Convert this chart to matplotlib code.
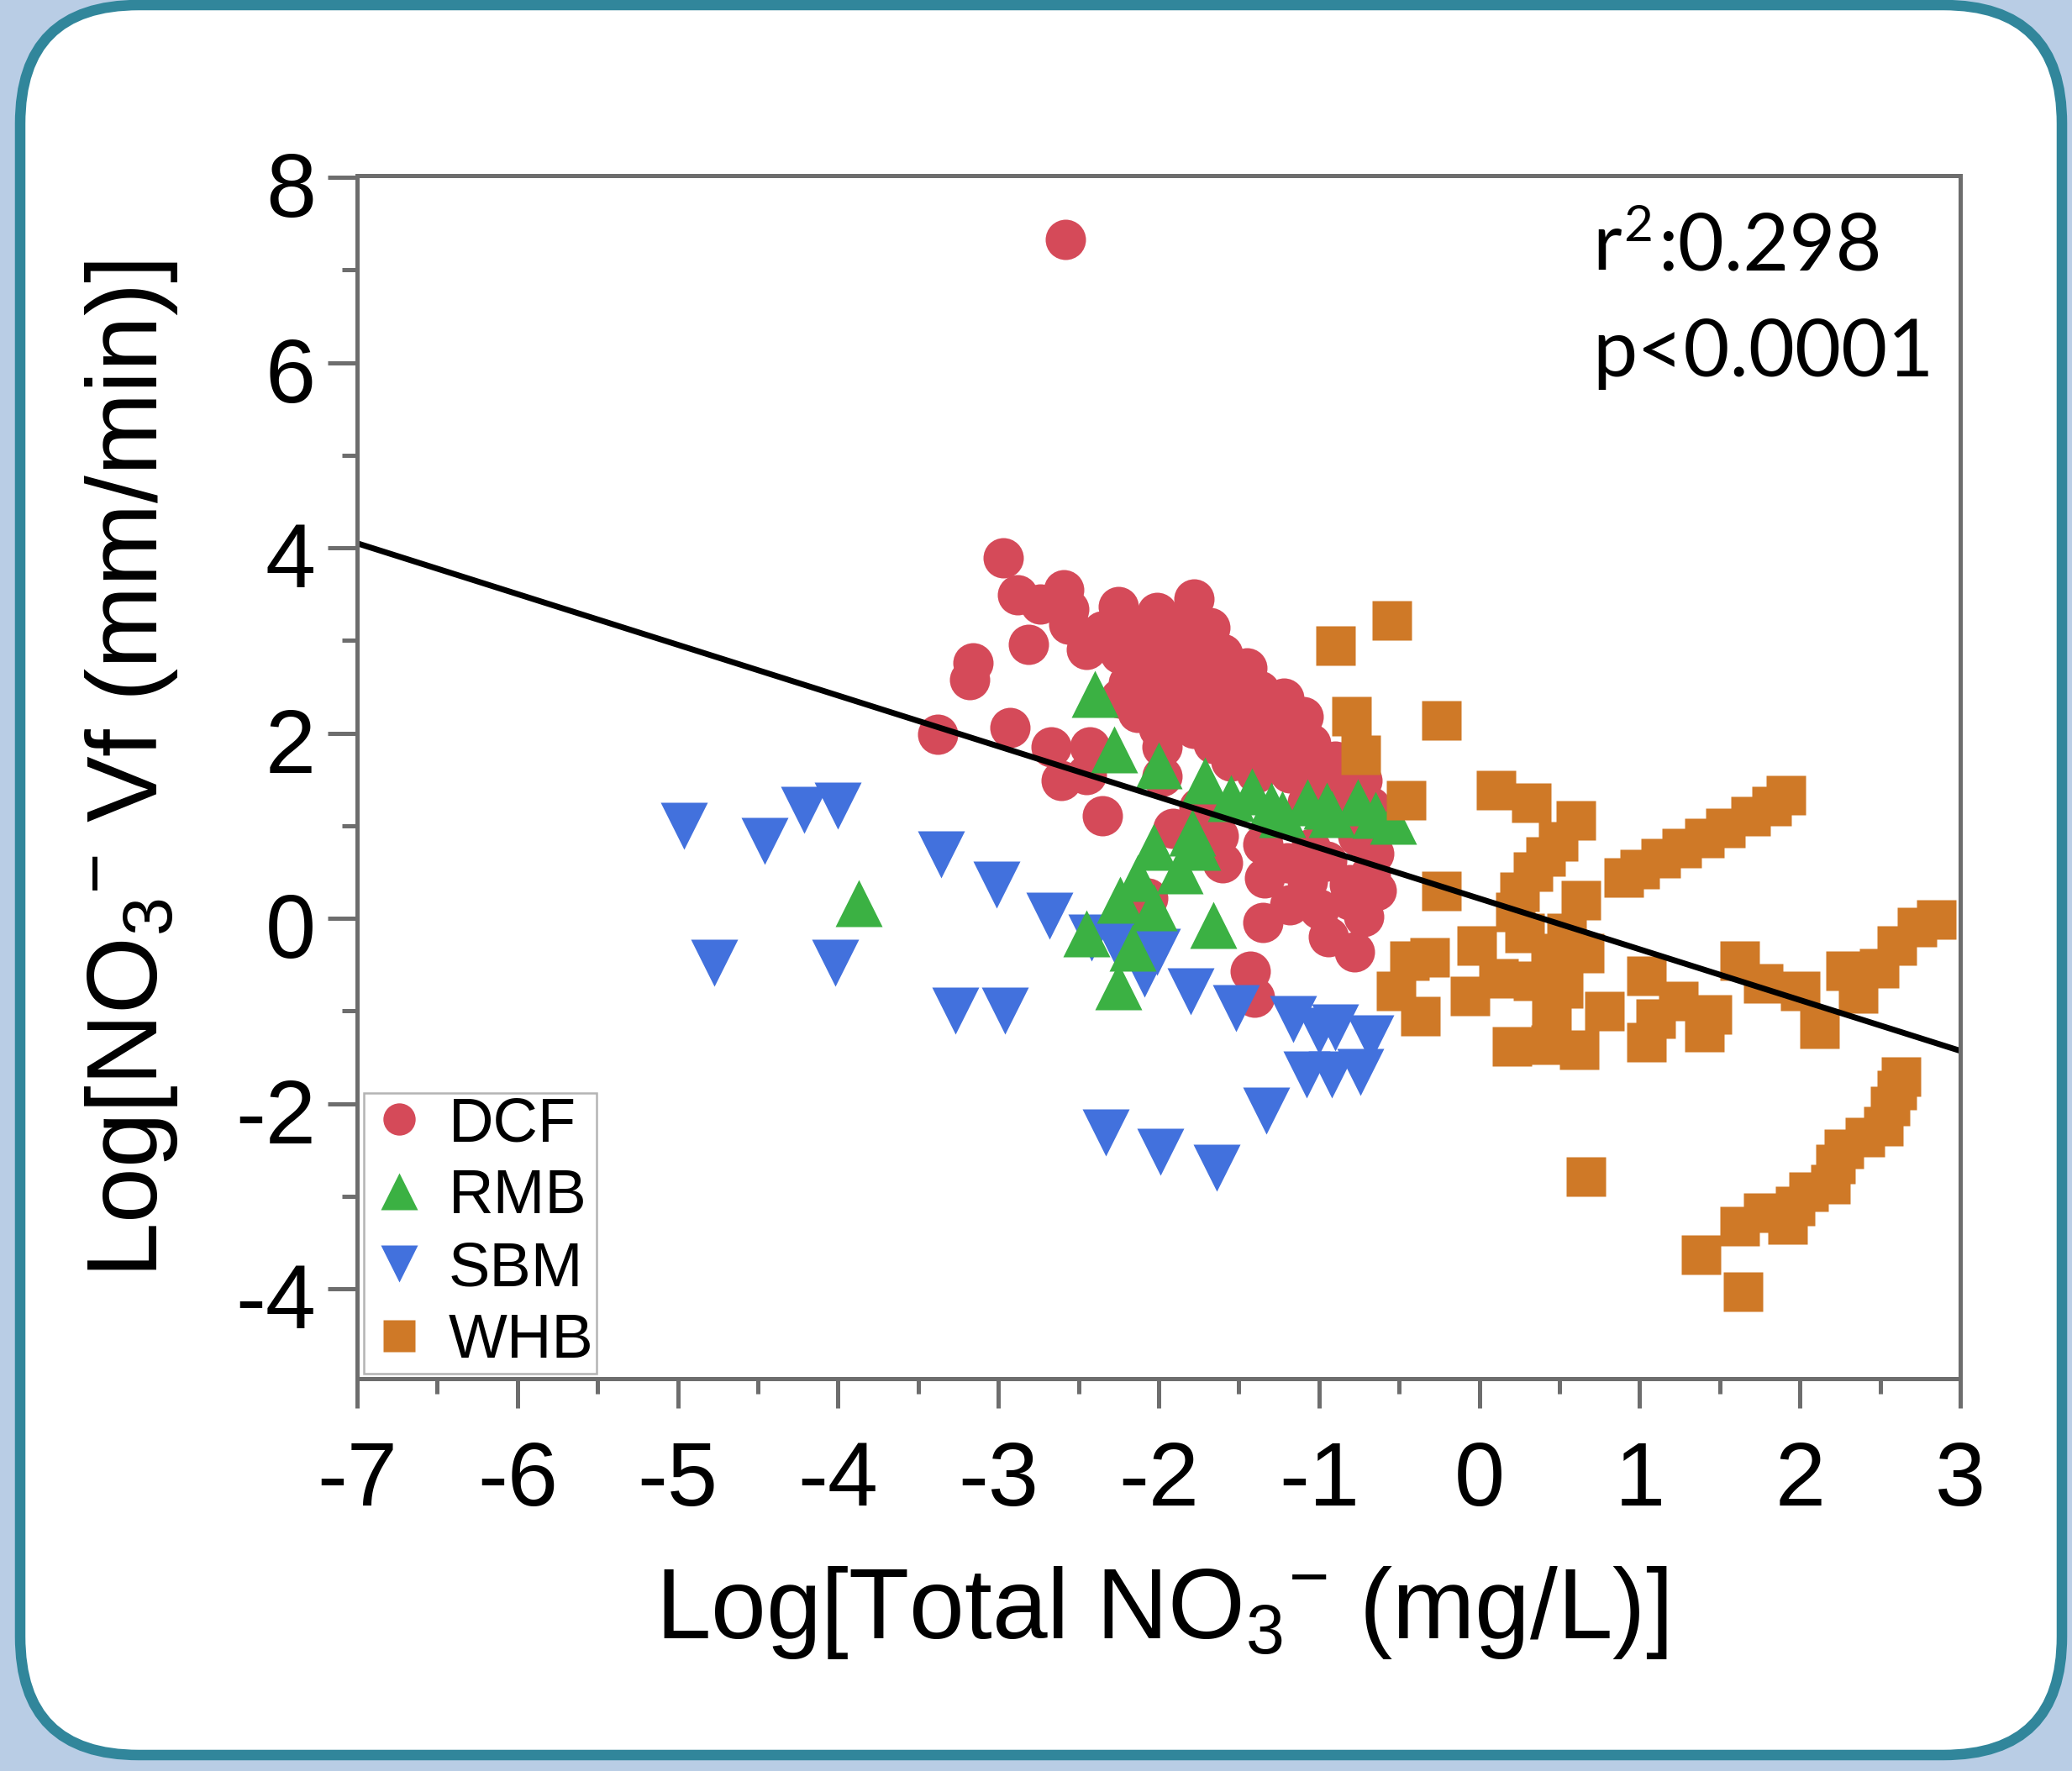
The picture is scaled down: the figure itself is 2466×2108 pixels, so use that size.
import matplotlib
matplotlib.use('Agg')
import matplotlib.pyplot as plt
from matplotlib.patches import FancyBboxPatch
from matplotlib.transforms import IdentityTransform, ScaledTranslation
from matplotlib.ticker import MultipleLocator

# figure size in pixels, dpi 72 so that 1 pt = 1 px
W, H, DPI = 2466, 2108, 72

plt.rcParams['font.family'] = ['Liberation Sans', 'DejaVu Sans']
plt.rcParams['axes.unicode_minus'] = False
plt.rcParams['mathtext.fontset'] = 'custom'
plt.rcParams['mathtext.rm'] = 'Liberation Sans'
plt.rcParams['mathtext.it'] = 'Liberation Sans:italic'

#%% data

dcf_x = [-2.58, -2.97, -2.88, -2.59, -2.74, -2.56, -2.81, -3.16, -3.18, -2.25,
         -1.78, -2.01, -2.56, -2.35, -2.13, -1.90, -1.68, -2.45, -2.24, -2.03,
         -1.82, -1.60, -2.19, -1.98, -1.76, -1.55, -1.37, -2.13, -1.90, -1.68,
         -1.47, -1.26, -1.10, -1.98, -1.66, -1.45, -1.23, -1.05, -2.67, -2.43,
         -2.93, -3.38, -2.61, -1.98, -1.39, -1.18, -0.94, -0.73, -1.07, -0.81,
         -0.68, -2.35, -1.91, -1.63, -0.76, -1.60, -1.34, -1.07, -0.81, -0.68,
         -0.81, -2.07, -1.35, -0.94, -0.78, -1.43, -1.40, -1.35, -1.05, -1.75,
         -2.40, -2.18, -1.96, -1.72, -2.08, -1.87, -1.65, -1.45, -2.24, -2.02,
         -1.80, -1.60, -1.40, -1.22, -2.00, -1.78, -1.56, -1.35, -1.15, -1.55,
         -1.30, -1.10, -0.90, -0.95, -0.75, -2.45, -1.20, -0.95,
         -0.66, -0.64, -0.72, -1.18, -1.00]
dcf_y = [7.33, 3.89, 3.49, 3.55, 3.39, 3.34, 2.96, 2.76, 2.58, 3.37,
         3.45, 3.30, 3.18, 3.10, 3.10, 3.14, 3.14, 2.90, 2.86, 2.86,
         2.86, 2.86, 2.54, 2.54, 2.54, 2.54, 2.46, 2.22, 2.22, 2.22,
         2.22, 2.22, 2.18, 1.85, 1.89, 1.85, 1.89, 1.89, 1.85, 1.85,
         2.06, 1.99, 1.49, 1.53, 1.57, 1.57, 1.57, 1.49, 1.25, 1.29,
         1.21, 1.11, 0.97, 0.89, 0.89, 0.60, 0.44, 0.40, 0.36, 0.48,
         0.20, 0.22, -0.04, -0.20, -0.36, -0.57, -0.85, 0.80, 0.75, 1.20,
         2.98, 2.98, 2.98, 2.98, 2.70, 2.70, 2.70, 2.70, 2.38, 2.38,
         2.38, 2.38, 2.38, 2.38, 2.05, 2.05, 2.05, 2.05, 2.05, 1.70,
         1.70, 1.70, 1.70, 1.40, 1.40, 1.55, 0.60, 0.62,
         0.70, 0.30, 0.02, 0.15, 0.10]

rmb_x = [-3.87, -2.40, -2.28, -2.00, -1.71, -1.42, -1.07, -0.76, -0.54, -1.23,
         -0.92, -1.79, -2.03, -1.76, -2.13, -1.87, -2.24, -2.03, -2.45, -2.16,
         -2.25, -1.66, -1.55, -0.95, -0.65, -1.30]
rmb_y = [0.16, 2.42, 1.82, 1.65, 1.49, 1.37, 1.25, 1.25, 1.05, 1.13,
         1.13, 0.93, 0.77, 0.77, 0.44, 0.52, 0.20, 0.12, -0.16, -0.32,
         -0.73, -0.07, 1.30, 1.22, 1.12, 1.22]

sbm_x = [-4.96, -4.46, -4.21, -4.00, -4.77, -4.02, -3.36, -3.01, -2.68, -3.27,
         -2.96, -2.42, -2.27, -2.01, -2.09, -1.80, -1.52, -1.16, -1.00, -0.90,
         -0.68, -1.08, -0.92, -0.74, -1.33, -2.33, -1.99, -1.64]
sbm_y = [1.00, 0.84, 1.17, 1.22, -0.48, -0.48, 0.69, 0.36, 0.03, -1.00,
         -1.00, -0.21, -0.24, -0.36, -0.60, -0.79, -0.97, -1.09, -1.21, -1.18,
         -1.30, -1.69, -1.69, -1.66, -2.08, -2.31, -2.52, -2.69]

whb_x = [-0.55, -0.90, -0.80, -0.24, -0.74, -0.46,
         0.10, 0.32, 0.60, 0.49, 0.41, 0.33, 0.25, 0.63, 0.22, -0.24,
         1.91, 1.82, 1.69, 1.53, 1.40, 1.26, 1.13, 1.00, 0.90,
         -0.44, -0.31, -0.52, -0.37, -0.06, -0.02, 0.28, 0.54, 0.65, 0.44,
         0.12, 0.33, 0.52, 0.20, 0.44, 0.62, 0.45, 0.78, 1.04, 1.10,
         1.04, 1.24, 1.45, 1.40, 1.62, 1.77, 2.00, 2.12, 2.36, 2.28,
         2.49, 2.60, 2.73, 2.85,
         0.66,
         2.63, 2.60, 2.56, 2.52, 2.40, 2.27, 2.22, 2.19, 2.05, 1.97,
         1.77, 1.62, 1.92, 1.38, 1.64]
whb_y = [3.22, 2.95, 2.19, 2.14, 1.77, 1.28,
         1.39, 1.25, 1.06, 0.84, 0.67, 0.51, 0.29, 0.20, 0.07, 0.30,
         1.33, 1.22, 1.11, 0.98, 0.87, 0.76, 0.65, 0.54, 0.45,
         -0.45, -0.42, -0.78, -1.05, -0.83, -0.29, -0.15, -0.15, -0.37, -0.37,
         -0.64, -0.67, -0.75, -1.38, -1.36, -1.41, -1.08, -1.00, -0.62, -1.08,
         -1.33, -0.89, -1.03, -1.22, -0.45, -0.70, -0.78, -1.19, -0.81, -0.56,
         -0.53, -0.29, -0.09, -0.01,
         -2.78,
         -1.70, -1.85, -2.02, -2.24, -2.36, -2.48, -2.65, -2.87, -2.95, -3.10,
         -3.17, -3.32, -3.30, -3.63, -4.03]

# regression line end points
fit_x = [-7, 3]
fit_y = [4.05, -1.43]

#%% figure and rounded frame

fig = plt.figure(figsize=(W / DPI, H / DPI), dpi=DPI, facecolor='#b9cde5')

frame = FancyBboxPatch((24, H - 2089), 2430, 2083,
                       boxstyle='round,pad=0,rounding_size=141',
                       transform=IdentityTransform(),
                       fc='white', ec='#31869b', lw=12.5, zorder=0)
fig.add_artist(frame)

ax = fig.add_axes([425 / W, 1 - 1641 / H, (2333 - 425) / W, (1641 - 209) / H])
ax.set_facecolor('white')

ax.plot(dcf_x, dcf_y, 'o', ms=48, mfc='#d54a59', mec='none', ls='none', label='DCF')
ax.plot(sbm_x, sbm_y, 'v', ms=56, mfc='#4271dd', mec='none', ls='none', label='SBM')
ax.plot(rmb_x, rmb_y, '^', ms=56, mfc='#3bb143', mec='none', ls='none', label='RMB')
ax.plot(whb_x, whb_y, 's', ms=47, mfc='#cf7927', mec='none', ls='none', label='WHB')
ax.plot(fit_x, fit_y, color='black', lw=7, solid_capstyle='butt')

ax.set_xlim(-7, 3)
ax.set_ylim(-4.97, 8.02)
ax.xaxis.set_major_locator(MultipleLocator(1))
ax.xaxis.set_minor_locator(MultipleLocator(0.5))
ax.yaxis.set_major_locator(MultipleLocator(2))
ax.yaxis.set_minor_locator(MultipleLocator(1))

gray = '#6d6d6d'
for s in ax.spines.values():
    s.set_color(gray)
    s.set_linewidth(5)
ax.tick_params(which='major', length=35, width=5, color=gray, labelsize=108)
ax.tick_params(which='minor', length=18, width=5, color=gray)
ax.tick_params(axis='x', which='major', pad=38)
ax.tick_params(axis='y', which='major', pad=14)

# y tick labels sit a little below their ticks in the picture
shift = ScaledTranslation(0, -8 / DPI, fig.dpi_scale_trans)
for lab in ax.get_yticklabels():
    lab.set_transform(lab.get_transform() + shift)

# legend in RMB / SBM order like the picture
h, l = ax.get_legend_handles_labels()
order = [0, 2, 1, 3]
leg = ax.legend([h[i] for i in order], [l[i] for i in order],
                loc='lower left', bbox_to_anchor=(0.0042, 0.0042),
                borderaxespad=0, fontsize=74, markerscale=0.8,
                frameon=True, fancybox=False, edgecolor='#b4b4b4',
                framealpha=1, borderpad=0.05, handlelength=1.03,
                handletextpad=0.28, labelspacing=0.23)
leg.get_frame().set_linewidth(2.5)

# r^2 / p annotation, superscript 2 drawn as its own piece
lato = ['Lato', 'DejaVu Sans']
r_txt = ax.text(0.7704, 0.9218, 'r', transform=ax.transAxes, ha='left',
                va='baseline', fontsize=95, family=lato)
ax.text(0.7704, 0.8331, 'p<0.0001', transform=ax.transAxes, ha='left',
        va='baseline', fontsize=95, family=lato)

fig.canvas.draw()
rend = fig.canvas.get_renderer()
bb = r_txt.get_window_extent(renderer=rend)
base_y = H - 321
sup = fig.text(bb.x1 + 3, base_y + 34, '2', transform=IdentityTransform(),
               ha='left', va='baseline', fontsize=60, family=lato)
bb2 = sup.get_window_extent(renderer=rend)
fig.text(bb2.x1 + 6, base_y, ':0.298', transform=IdentityTransform(),
         ha='left', va='baseline', fontsize=95, family=lato)

fig.text(1382 / W, 1 - 1950 / H, r'Log[Total NO$_3$$^{-}$ (mg/L)]',
         ha='center', va='baseline', fontsize=118)
fig.text(157 / W, 1 - 916 / H, r'Log[NO$_3$$^{-}$ Vf (mm/min)]',
         ha='center', va='center', rotation=90, fontsize=118)

fig.savefig('out.png', dpi=DPI, facecolor=fig.get_facecolor())
